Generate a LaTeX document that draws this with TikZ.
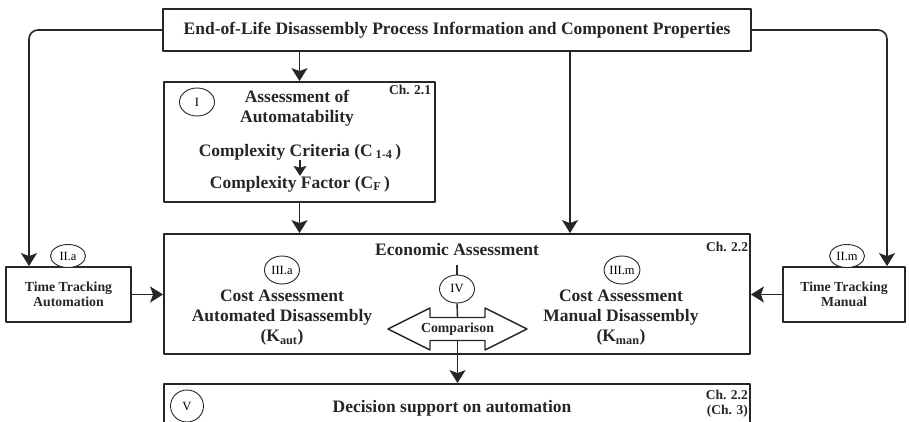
\documentclass[tikz,border=0pt]{standalone}
\usepackage{fontspec}
\setmainfont{Liberation Serif}
\usetikzlibrary{arrows.meta,shapes.geometric}
\definecolor{flowline}{HTML}{262626}

\begin{document}
\begin{tikzpicture}[
  x=1pt,
  y=-1pt,
  line join=round,
  box/.style={draw=flowline,line width=1.8pt,inner sep=0pt},
  title/.style={font=\bfseries\fontsize{17.5}{20}\selectfont,align=center,inner sep=0pt,text=flowline},
  small/.style={font=\bfseries\fontsize{13.8}{15.5}\selectfont,align=center,inner sep=0pt,text=flowline},
  chap/.style={font=\bfseries\fontsize{13.5}{15}\selectfont,align=right,inner sep=0pt,text=flowline},
  tag/.style={ellipse,draw=flowline,line width=0.9pt,fill=white,minimum width=35pt,minimum height=28pt,inner sep=0pt,font=\fontsize{12.5}{14}\selectfont},
  link/.style={draw=flowline,line width=1.6pt,-{Stealth[length=13pt,width=16pt,inset=3pt]}},
  plain/.style={draw=flowline,line width=1.4pt}
]
  \clip (0,0) rectangle (909,422);

  % Input information across the top.
  \node[box,minimum width=588pt,minimum height=42pt,title] (info) at (457,30)
    {End-of-Life Disassembly Process Information and Component Properties};

  % Stage I: automatability.
  \node[box,minimum width=271pt,minimum height=120pt] (autom) at (299.5,142) {};
  \node[tag] (tagI) at (197,102) {I};
  \node[title] (automtitle) at (297,108) {Assessment of\\Automatability};
  \node[chap] (chI) at (410,90) {Ch. 2.1};
  \node[title] (criteria) at (300,152) {Complexity Criteria (C\,\textsubscript{1-4}\,)};
  \node[title] (factor) at (300,184) {Complexity Factor (C\textsubscript{F}\,)};
  \draw[draw=flowline,line width=1.3pt,-{Stealth[length=10pt,width=13pt,inset=2pt]}] (criteria) -- (factor);

  % Stage II: time tracking on both sides.
  \node[box,minimum width=125pt,minimum height=55pt,small] (ttauto) at (68.5,294.5) {Time Tracking\\Automation};
  \node[tag,minimum height=23pt] (tagIIa) at (68,256) {II.a};
  \node[box,minimum width=122pt,minimum height=55pt,small] (ttman) at (844,294.5) {Time Tracking\\Manual};
  \node[tag,minimum height=23pt] (tagIIm) at (847,256) {II.m};

  % Stage III and IV: economic assessment.
  \node[box,minimum width=586pt,minimum height=120pt] (econ) at (457,294) {};
  \node[title] (econtitle) at (457,250) {Economic Assessment};
  \node[chap] (chII) at (727,247) {Ch. 2.2};
  \node[tag] (tagIIIa) at (282,270) {III.a};
  \node[title] (costaut) at (282,318) {Cost Assessment\\Automated Disassembly\\(K\textsubscript{aut})};
  \node[tag] (tagIIIm) at (622,270) {III.m};
  \node[title] (costman) at (621,318) {Cost Assessment\\Manual Disassembly\\(K\textsubscript{man})};
  \node[tag] (tagIV) at (457,289) {IV};

  \coordinate (cmp) at (457.5,329);
  \draw[plain,fill=white] (cmp) ++(-69.5,0) -- ++(42,-21) -- ++(0,9.5) -- ++(55,0) -- ++(0,-9.5)
    -- ++(42,21) -- ++(-42,21) -- ++(0,-9.5) -- ++(-55,0) -- ++(0,9.5) -- cycle;
  \node[small] (cmptext) at (cmp) {Comparison};
  \draw[plain] (tagIV.north) -- ++(0,-10);
  \draw[plain] (tagIV.south) -- ([yshift=11.5pt]cmp);

  % Stage V: decision support, cut at the lower edge.
  \node[box,minimum width=586pt,minimum height=60pt] (decision) at (457,414) {};
  \node[tag,minimum width=33pt,minimum height=32pt] (tagV) at (187,406) {V};
  \node[title] (dectext) at (452,408) {Decision support on automation};
  \node[chap,anchor=north east] (chV) at (748,390) {Ch. 2.2\\(Ch. 3)};

  % Connectors.
  \coordinate (leftrail) at (29,0);
  \coordinate (rightrail) at (887,0);
  \coordinate (midrail) at (570,0);
  \draw[link,rounded corners=9pt] (info.west) -| (leftrail |- ttauto.north);
  \draw[link,rounded corners=9pt] (info.east) -| (rightrail |- ttman.north);
  \draw[link] (autom.north |- info.south) -- (autom.north);
  \draw[link] (autom.south) -- (autom.south |- econ.north);
  \draw[link] (midrail |- info.south) -- (midrail |- econ.north);
  \draw[link] (ttauto.east) -- (econ.west |- ttauto.east);
  \draw[link] (ttman.west) -- (econ.east |- ttman.west);
  \draw[link] ([yshift=-11.5pt]cmp) -- (decision.north -| cmp);
\end{tikzpicture}
\end{document}
